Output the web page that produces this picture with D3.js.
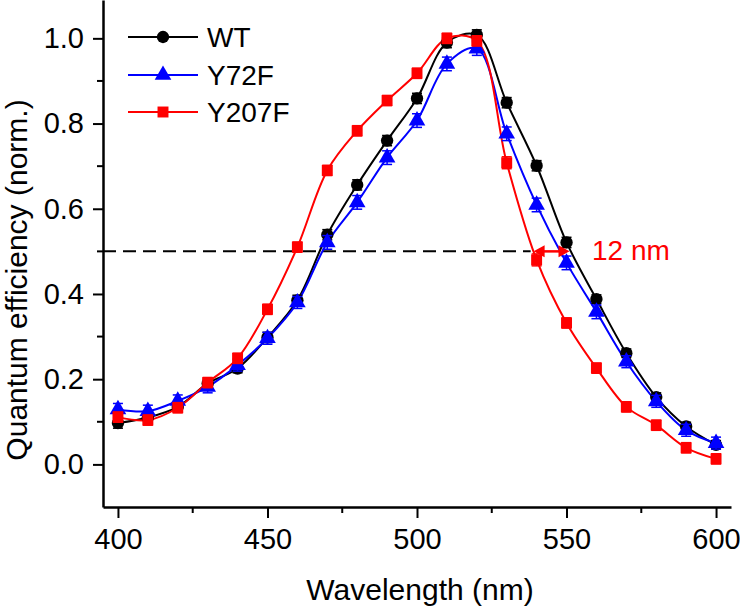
<!DOCTYPE html>
<html>
<head>
<meta charset="utf-8">
<script src="https://cdn.jsdelivr.net/npm/d3@7"></script>
<style>
  body { margin: 0; background: #fff; }
  svg text { font-family: "Liberation Sans", Arial, sans-serif; }
</style>
</head>
<body>
<div class="chart"></div>
<script>
(function(){

  // data
  var wavelengths = [400, 410, 420, 430, 440, 450, 460, 470, 480, 490, 500,
                     510, 520, 530, 540, 550, 560, 570, 580, 590, 600]
  var wt    = [0.097, 0.110, 0.135, 0.190, 0.225, 0.298, 0.385, 0.539, 0.656, 0.760, 0.859,
               0.990, 1.008, 0.849, 0.701, 0.521, 0.388, 0.261, 0.158, 0.089, 0.046]
  var y72f  = [0.129, 0.125, 0.149, 0.182, 0.233, 0.296, 0.380, 0.521, 0.615, 0.720, 0.807,
               0.940, 0.976, 0.776, 0.609, 0.473, 0.358, 0.241, 0.148, 0.080, 0.050]
  var y207f = [0.111, 0.104, 0.133, 0.192, 0.249, 0.364, 0.510, 0.690, 0.783, 0.854, 0.918,
               1.000, 0.994, 0.708, 0.480, 0.332, 0.226, 0.135, 0.092, 0.039, 0.013]
  var wtErr    = [0.012, 0.010, 0.010, 0.010, 0.010, 0.012, 0.012, 0.012, 0.012, 0.012, 0.012,
                  0.012, 0.012, 0.012, 0.012, 0.012, 0.010, 0.010, 0.010, 0.010, 0.010]
  var y72fErr  = [0.014, 0.014, 0.014, 0.014, 0.014, 0.014, 0.014, 0.016, 0.016, 0.016, 0.016,
                  0.016, 0.016, 0.016, 0.016, 0.016, 0.016, 0.014, 0.014, 0.014, 0.014]
  var y207fErr = [0.012, 0.012, 0.012, 0.012, 0.012, 0.012, 0.012, 0.012, 0.012, 0.012, 0.012,
                  0.012, 0.012, 0.014, 0.014, 0.012, 0.012, 0.012, 0.012, 0.012, 0.012]
  var seriesNames = ['WT', 'Y72F', 'Y207F']
  var seriesColors = ['#000000', '#0000ff', '#ff0000']
  var xMajorTicks = [400, 450, 500, 550, 600]
  var xMinorTicks = [425, 475, 525, 575]
  var yMajorTicks = [0.0, 0.2, 0.4, 0.6, 0.8, 1.0]
  var yMinorTicks = [0.1, 0.3, 0.5, 0.7, 0.9]
  var halfMax = 0.5
  var dashEnd = 538
  var shiftFrom = 539, shiftTo = 551
  var shiftLabel = '12 nm'

  var width = 740, height = 606
  var margin = { top: 0, right: 9, bottom: 99, left: 103 }

  var svg = d3.select(".chart").append("svg")
        .attr("width", width)
        .attr("height", height)

  var x = d3.scaleLinear().domain([395, 605]).range([margin.left, width - margin.right])
  var y = d3.scaleLinear().domain([-0.1, 1.09]).range([height - margin.bottom, margin.top])

  // axes
  var fontTick = 29

  var xAxis = svg.append('g')
    .attr('transform', 'translate(0,' + (height - margin.bottom) + ')')
    .call(d3.axisBottom(x).tickValues(xMajorTicks).tickSize(11).tickSizeOuter(0).tickPadding(10).tickFormat(d3.format('d')))
  xAxis.append('g').selectAll('line')
    .data(xMinorTicks)
    .enter().append('line')
    .attr('x1', d => x(d)).attr('x2', d => x(d))
    .attr('y1', 0).attr('y2', 6)
    .style('stroke', 'black').style('stroke-width', 2)

  var yAxis = svg.append('g')
    .attr('transform', 'translate(' + margin.left + ',0)')
    .call(d3.axisLeft(y).tickValues(yMajorTicks).tickSize(10).tickSizeOuter(0).tickPadding(9).tickFormat(d3.format('.1f')))
  yAxis.append('g').selectAll('line')
    .data(yMinorTicks)
    .enter().append('line')
    .attr('y1', d => y(d)).attr('y2', d => y(d))
    .attr('x1', 0).attr('x2', -6)
    .style('stroke', 'black').style('stroke-width', 2)

  svg.selectAll('.domain').style('stroke', 'black').style('stroke-width', 2.5)
  svg.selectAll('.tick line').style('stroke', 'black').style('stroke-width', 2)
  svg.selectAll('.tick text')
    .style('font-size', fontTick + 'px')
    .style('fill', 'black')
    .style('font-family', '"Liberation Sans", Arial, sans-serif')

  // axis titles
  svg.append('text')
    .attr('x', 420).attr('y', 600)
    .attr('text-anchor', 'middle')
    .style('font-size', '30px')
    .text('Wavelength (nm)')

  svg.append('text')
    .attr('transform', 'translate(27,280) rotate(-90)')
    .attr('text-anchor', 'middle')
    .style('font-size', '30px')
    .text('Quantum efficiency (norm.)')

  // half maximum dashed line
  svg.append('line')
    .attr('x1', x(395)).attr('x2', x(dashEnd))
    .attr('y1', y(halfMax)).attr('y2', y(halfMax))
    .style('stroke', 'black')
    .style('stroke-width', 2)
    .style('stroke-dasharray', '13,7')

  // series
  var allValues = [wt, y72f, y207f]
  var allErrs = [wtErr, y72fErr, y207fErr]
  var symbols = [d3.symbolCircle, d3.symbolTriangle, d3.symbolSquare]
  var symbolSizes = [120, 120, 120]

  var line = d3.line()
    .x(d => x(d.w))
    .y(d => y(d.v))
    .curve(d3.curveCatmullRom.alpha(0.5))

  var series = seriesNames.map(function(name, i){
    return {
      name: name,
      color: seriesColors[i],
      symbol: symbols[i],
      size: symbolSizes[i],
      points: wavelengths.map(function(w, j){ return { w: w, v: allValues[i][j], e: allErrs[i][j] } })
    }
  })

  series.forEach(function(s){
    svg.append('path')
      .datum(s.points)
      .attr('d', line)
      .style('fill', 'none')
      .style('stroke', s.color)
      .style('stroke-width', 2)
  })

  series.forEach(function(s){
    var g = svg.append('g')
    // error bars
    var eb = g.selectAll('.err')
      .data(s.points)
      .enter().append('g')
      .style('stroke', s.color)
      .style('stroke-width', 1.5)
    eb.append('line')
      .attr('x1', d => x(d.w)).attr('x2', d => x(d.w))
      .attr('y1', d => y(d.v - d.e)).attr('y2', d => y(d.v + d.e))
    eb.append('line')
      .attr('x1', d => x(d.w) - 5).attr('x2', d => x(d.w) + 5)
      .attr('y1', d => y(d.v - d.e)).attr('y2', d => y(d.v - d.e))
    eb.append('line')
      .attr('x1', d => x(d.w) - 5).attr('x2', d => x(d.w) + 5)
      .attr('y1', d => y(d.v + d.e)).attr('y2', d => y(d.v + d.e))

    g.selectAll('.marker')
      .data(s.points)
      .enter().append('path')
      .attr('d', d3.symbol().type(s.symbol).size(s.size))
      .attr('transform', d => 'translate(' + x(d.w) + ',' + y(d.v) + ')')
      .style('fill', s.color)
  })

  // shift arrow
  var arrowY = y(halfMax)
  var red = seriesColors[2]
  svg.append('line')
    .attr('x1', x(shiftFrom) + 8).attr('x2', x(shiftTo) - 8)
    .attr('y1', arrowY).attr('y2', arrowY)
    .style('stroke', red).style('stroke-width', 2.5)
  svg.append('path')
    .attr('d', 'M' + x(shiftFrom) + ',' + arrowY + 'l11,-6l0,12z')
    .style('fill', red)
  svg.append('path')
    .attr('d', 'M' + x(shiftTo) + ',' + arrowY + 'l-11,-6l0,12z')
    .style('fill', red)
  svg.append('text')
    .attr('x', 592).attr('y', arrowY + 9)
    .style('font-size', '28px')
    .style('fill', red)
    .text(shiftLabel)

  // legend
  var legend = svg.append('g')
  var legendY = [37, 75, 112]
  series.forEach(function(s, i){
    legend.append('line')
      .attr('x1', 128).attr('x2', 198)
      .attr('y1', legendY[i]).attr('y2', legendY[i])
      .style('stroke', s.color).style('stroke-width', 2)
    legend.append('path')
      .attr('d', d3.symbol().type(s.symbol).size(s.size))
      .attr('transform', 'translate(163,' + legendY[i] + ')')
      .style('fill', s.color)
    legend.append('text')
      .attr('x', 207).attr('y', legendY[i])
      .attr('dy', '0.36em')
      .style('font-size', '28px')
      .text(s.name)
  })

})()
</script>
</body>
</html>
